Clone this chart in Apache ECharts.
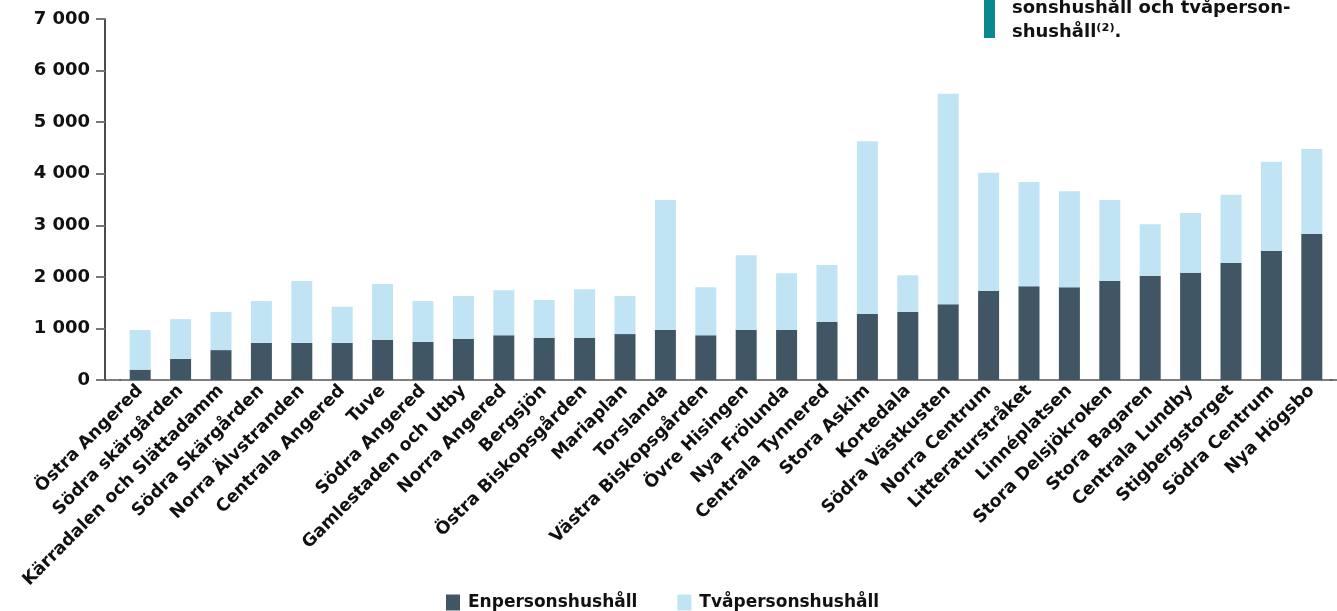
<!DOCTYPE html>
<html>
<head>
<meta charset="utf-8">
<script src="https://cdn.jsdelivr.net/npm/echarts@6/dist/echarts.min.js"></script>
<style>
  html, body { margin:0; padding:0; background:#fff; }
  #chart { width:1337px; height:611px; }
</style>
</head>
<body>
<div id="chart"></div>
<script>
// stadsdelar / områden
var categories = ['Östra Angered','Södra skärgården','Kärradalen och Slättadamm','Södra Skärgården','Norra Älvstranden',
    'Centrala Angered','Tuve','Södra Angered','Gamlestaden och Utby','Norra Angered','Bergsjön','Östra Biskopsgården',
    'Mariaplan','Torslanda','Västra Biskopsgården','Övre Hisingen','Nya Frölunda','Centrala Tynnered','Stora Askim',
    'Kortedala','Södra Västkusten','Norra Centrum','Litteraturstråket','Linnéplatsen','Stora Delsjökroken',
    'Stora Bagaren','Centrala Lundby','Stigbergstorget','Södra Centrum','Nya Högsbo'];

var enperson = [200,410,580,720,720,720,780,740,800,870,820,820,890,970,870,970,970,1130,1280,
    1320,1470,1730,1820,1800,1920,2020,2080,2270,2500,2830];

var tvaperson = [770,770,740,810,1200,700,1080,790,830,870,730,940,740,2520,930,1450,1100,1100,3350,
    710,4080,2290,2020,1860,1570,1000,1160,1320,1730,1650];

var yTicks = [0,1000,2000,3000,4000,5000,6000,7000];
var legendList = ['Enpersonshushåll','Tvåpersonshushåll'];

var FONT = '"DejaVu Sans", sans-serif';

function fmt(v){
    return String(v).replace(/\B(?=(\d{3})+(?!\d))/g, ' ');
}

var chart = echarts.init(document.getElementById('chart'));

var option = {
    animation: false,
    color: ['#415665','#c0e4f3'],
    grid: { left: 120, right: 5, top: 19, bottom: 231, containLabel: false },
    legend: {
        data: legendList,
        left: 441,
        top: 589,
        itemWidth: 14,
        itemHeight: 16,
        itemGap: 40,
        icon: 'rect',
        selectedMode: false,
        textStyle: { fontFamily: FONT, fontWeight: 'bold', fontSize: 17, color: '#111', padding: [0,0,0,3] }
    },
    xAxis: {
        type: 'category',
        data: categories,
        axisLine: { lineStyle: { color: '#555', width: 1.5 } },
        axisTick: { show: false },
        axisLabel: {
            rotate: 45,
            interval: 0,
            margin: 8,
            fontFamily: FONT,
            fontWeight: 'bold',
            fontSize: 17.5,
            color: '#111'
        }
    },
    yAxis: {
        type: 'value',
        min: yTicks[0],
        max: yTicks[yTicks.length - 1],
        interval: 1000,
        offset: 15,
        splitLine: { show: false },
        axisLine: { show: true, lineStyle: { color: '#111', width: 1.5 } },
        axisTick: { show: true, length: 9, lineStyle: { color: '#777', width: 2 } },
        axisLabel: {
            margin: 15,
            fontFamily: FONT,
            fontWeight: 'bold',
            fontSize: 18,
            color: '#111',
            formatter: fmt
        }
    },
    series: [
        { name: legendList[0], type: 'bar', stack: 'hush', barWidth: 21, data: enperson },
        { name: legendList[1], type: 'bar', stack: 'hush', barWidth: 21, data: tvaperson }
    ],
    graphic: [
        // x-axellinjen fortsätter till y-axeln och kanten
        { type: 'line', shape: { x1: 105, y1: 380, x2: 121, y2: 380 }, style: { stroke: '#555', lineWidth: 1.5 } },
        { type: 'line', shape: { x1: 1330, y1: 380, x2: 1337, y2: 380 }, style: { stroke: '#555', lineWidth: 1.5 } },
        { type: 'rect', shape: { x: 984, y: 0, width: 11, height: 38 }, style: { fill: '#0a8790' } },
        { type: 'text', x: 1012, y: 17, style: { text: 'sonshushåll och tvåperson-', font: 'bold 18px "DejaVu Sans"', fill: '#111', verticalAlign: 'bottom' } },
        { type: 'text', x: 1012, y: 41, style: { text: 'shushåll⁽²⁾.', font: 'bold 18px "DejaVu Sans"', fill: '#111', verticalAlign: 'bottom' } }
    ]
};
chart.setOption(option);
</script>
</body>
</html>
